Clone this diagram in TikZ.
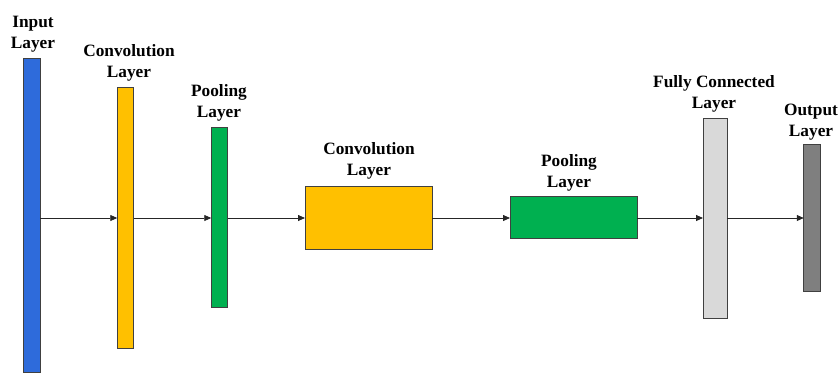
\documentclass[tikz,border=0pt]{standalone}
\usepackage{fontspec}
\setmainfont{Liberation Serif}
\usetikzlibrary{arrows.meta}
\definecolor{cblue}{HTML}{2E6BDB}
\definecolor{cyellow}{HTML}{FFC000}
\definecolor{cgreen}{HTML}{00B050}
\definecolor{clight}{HTML}{D9D9D9}
\definecolor{cdark}{HTML}{7F7F7F}
\definecolor{cborder}{HTML}{404040}
\begin{document}
\begin{tikzpicture}[x=1pt,y=-1pt,
  layerbox/.style={draw=cborder,line width=0.9pt,inner sep=0pt,outer sep=0pt},
  lbl/.style={align=center,font=\fontsize{17.3}{21.5}\selectfont\bfseries,inner sep=0pt},
  conn/.style={draw=black!85,line width=0.8pt,-{Triangle[width=6pt,length=7pt]}}]
\useasboundingbox (0,0) rectangle (840,372);
% layers
\node[layerbox,fill=cblue,minimum width=16.5pt,minimum height=314pt] (in) at (32,215) {};
\node[layerbox,fill=cyellow,minimum width=16.5pt,minimum height=261pt] (c1) at (125.5,217.5) {};
\node[layerbox,fill=cgreen,minimum width=16.5pt,minimum height=180pt] (p1) at (219.5,217) {};
\node[layerbox,fill=cyellow,minimum width=127pt,minimum height=63pt] (c2) at (368.5,217.5) {};
\node[layerbox,fill=cgreen,minimum width=127pt,minimum height=42pt] (p2) at (573.5,217) {};
\node[layerbox,fill=clight,minimum width=24pt,minimum height=200pt] (fc) at (715,218) {};
\node[layerbox,fill=cdark,minimum width=16.5pt,minimum height=147pt] (out) at (812,217.5) {};
% labels
\node[lbl] (lin) at (33,34) {Input\\Layer};
\node[lbl] (lc1) at (129,63) {Convolution\\Layer};
\node[lbl] (lp1) at (219,103) {Pooling\\Layer};
\node[lbl] (lc2) at (369,161) {Convolution\\Layer};
\node[lbl] (lp2) at (569,173) {Pooling\\Layer};
\node[lbl] (lfc) at (714,94) {Fully Connected\\Layer};
\node[lbl] (lout) at (811,122) {Output\\Layer};
% connectors
\coordinate (ay) at (0,218);
\draw[conn] (in.east |- ay) -- (c1.west |- ay);
\draw[conn] (c1.east |- ay) -- (p1.west |- ay);
\draw[conn] (p1.east |- ay) -- (c2.west |- ay);
\draw[conn] (c2.east |- ay) -- (p2.west |- ay);
\draw[conn] (p2.east |- ay) -- (fc.west |- ay);
\draw[conn] (fc.east |- ay) -- (out.west |- ay);
\end{tikzpicture}
\end{document}
